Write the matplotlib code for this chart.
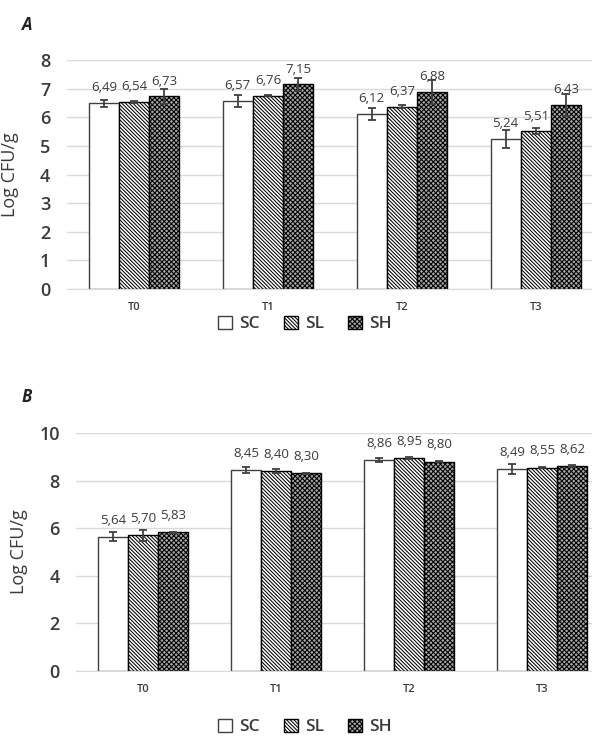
import matplotlib.pyplot as plt
from matplotlib.patches import Patch
import numpy as np

plt.rcParams['font.family'] = ['Open Sans', 'DejaVu Sans']
plt.rcParams['font.weight'] = 'medium'
plt.rcParams['hatch.linewidth'] = 0.75

times = ['T0', 'T1', 'T2', 'T3']
series = ['SC', 'SL', 'SH']

# panel A
a_sc = [6.49, 6.57, 6.12, 5.24]
a_sl = [6.54, 6.76, 6.37, 5.51]
a_sh = [6.73, 7.15, 6.88, 6.43]
a_sc_err = [0.12, 0.20, 0.21, 0.31]
a_sl_err = [0.03, 0.03, 0.05, 0.10]
a_sh_err = [0.25, 0.23, 0.42, 0.40]

# panel B
b_sc = [5.64, 8.45, 8.86, 8.49]
b_sl = [5.70, 8.40, 8.95, 8.55]
b_sh = [5.83, 8.30, 8.80, 8.62]
b_sc_err = [0.19, 0.12, 0.08, 0.21]
b_sl_err = [0.22, 0.07, 0.05, 0.04]
b_sh_err = [0.02, 0.03, 0.03, 0.05]

txt = '#3a3a3a'
styles = [dict(facecolor='white', edgecolor='#404040', hatch=None),
          dict(facecolor='white', edgecolor='black', hatch='\\' * 9),
          dict(facecolor='#a6a6a6', edgecolor='black', hatch='x' * 7)]


def panel(ax, vals, errs, ymax, step, lbl_off):
    x = np.arange(len(times))
    w = 0.225
    for i, (v, e) in enumerate(zip(vals, errs)):
        pos = x + (i - 1) * w
        ax.bar(pos, v, w, linewidth=1.0, zorder=2, **styles[i])
        ax.errorbar(pos, v, yerr=e, fmt='none', ecolor='#404040',
                    elinewidth=1.3, capsize=3, capthick=1.3, zorder=3)
        for p, val in zip(pos, v):
            ax.annotate(('%.2f' % val).replace('.', ','), (p, val),
                        xytext=(0, lbl_off), textcoords='offset points',
                        ha='center', va='center', fontsize=9.5, color=txt)
    ax.set_xlim(-0.5, len(times) - 0.5)
    ax.set_ylim(0, ymax)
    ax.set_yticks(np.arange(0, ymax + 0.1, step))
    ax.set_xticks(x)
    ax.set_xticklabels(times, fontsize=8, color=txt, fontweight='semibold')
    ax.tick_params(axis='y', labelsize=13, colors=txt, length=0, pad=12)
    for t in ax.get_yticklabels():
        t.set_fontweight('semibold')
    ax.tick_params(axis='x', length=0, pad=9)
    ax.yaxis.grid(True, color='#d9d9d9', linewidth=1, zorder=0)
    ax.set_axisbelow(True)
    for s in ['top', 'right', 'left']:
        ax.spines[s].set_visible(False)
    ax.spines['bottom'].set_color('#d9d9d9')
    ax.set_ylabel('Log CFU/g', fontsize=13, color=txt)


fig = plt.figure(figsize=(5.92, 7.36), dpi=100)

ax1 = fig.add_axes([0.1132, 0.6073, 0.905, 0.3111])
panel(ax1, [a_sc, a_sl, a_sh], [a_sc_err, a_sl_err, a_sh_err], 8, 1, 11)
ax1.yaxis.set_label_coords(-0.09, 0.5)

ax2 = fig.add_axes([0.129, 0.0883, 0.899, 0.3234])
panel(ax2, [b_sc, b_sl, b_sh], [b_sc_err, b_sl_err, b_sh_err], 10, 2, 12)
ax2.yaxis.set_label_coords(-0.09, 0.5)

fig.text(22 / 592, 1 - 25 / 736, 'A', fontsize=12, fontweight='bold',
         fontstyle='italic', color='#222222', va='center')
fig.text(22 / 592, 1 - 397 / 736, 'B', fontsize=12, fontweight='bold',
         fontstyle='italic', color='#222222', va='center')

handles = [Patch(linewidth=1.0, **st) for st in styles]
for yc in [1 - 324 / 736, 1 - 727 / 736]:
    leg = fig.legend(handles, series, loc='center', bbox_to_anchor=(305 / 592, yc),
                     ncol=3, frameon=False, fontsize=12.5, handlelength=0.8,
                     handleheight=0.8, handletextpad=0.4, columnspacing=1.4)
    for t in leg.get_texts():
        t.set_color(txt)
        t.set_fontweight('semibold')

fig.savefig('out.png', dpi=100)
